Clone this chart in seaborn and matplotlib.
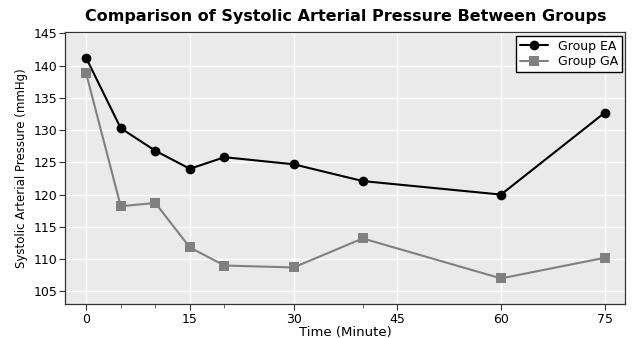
import matplotlib
matplotlib.use("Agg")
import matplotlib.pyplot as plt
import seaborn as sns
import pandas as pd
from matplotlib.ticker import FixedLocator

time_min = [0, 5, 10, 15, 20, 30, 40, 60, 75]
group_ea = [141.2, 130.3, 126.8, 124.0, 125.8, 124.7, 122.1, 120.0, 132.7]
group_ga = [138.8, 118.2, 118.7, 111.8, 109.0, 108.7, 113.2, 107.0, 110.2]
x_ticks = [0, 15, 30, 45, 60, 75]
y_ticks = [105, 110, 115, 120, 125, 130, 135, 140, 145]

sns.set_theme(style="darkgrid")
plt.rcParams['font.family'] = ['DejaVu Sans']
plt.rcParams['text.color'] = 'black'
plt.rcParams['axes.labelcolor'] = 'black'
plt.rcParams['xtick.color'] = 'black'
plt.rcParams['ytick.color'] = 'black'

df = pd.DataFrame({
    "Time": time_min * 2,
    "SAP": group_ea + group_ga,
    "Group": ["Group EA"] * len(time_min) + ["Group GA"] * len(time_min),
})

fig, ax = plt.subplots(figsize=(6.35, 3.38), dpi=100)
ax.set_facecolor("#EAEAEA")
sns.lineplot(data=df, x="Time", y="SAP", hue="Group", style="Group",
             markers={"Group EA": "o", "Group GA": "s"}, dashes=False,
             palette={"Group EA": "black", "Group GA": "gray"},
             markersize=7, linewidth=1.5, markeredgewidth=0, ax=ax)

ax.set_xticks(x_ticks)
ax.xaxis.set_minor_locator(FixedLocator([5, 10, 20, 40]))
ax.set_yticks(y_ticks)
ax.set_xlim(-3, 78)
ax.set_ylim(103, 145.2)
ax.grid(True, which="major", color="white", linewidth=1.0)
ax.grid(False, which="minor")
ax.tick_params(axis="both", which="major", labelsize=9, length=4, width=0.8,
               color="#333333", bottom=True, left=True, pad=2)
ax.tick_params(axis="x", which="minor", length=3, width=0.6, color="#555555", bottom=True)
for s in ax.spines.values():
    s.set_visible(True)
    s.set_color("#333333")
    s.set_linewidth(0.9)

ax.set_title("Comparison of Systolic Arterial Pressure Between Groups",
             fontsize=11.5, fontweight="bold", pad=8, color="black")
ax.set_xlabel("Time (Minute)", fontsize=9.5, labelpad=0)
ax.set_ylabel("Systolic Arterial Pressure (mmHg)", fontsize=8.5, labelpad=4)

leg = ax.legend(loc="upper right", fontsize=9, frameon=True, fancybox=False,
                borderpad=0.3, labelspacing=0.2, handlelength=2.2, borderaxespad=0.3)
leg.get_frame().set_edgecolor("black")
leg.get_frame().set_linewidth(1.0)
leg.get_frame().set_facecolor("white")
leg.get_frame().set_alpha(1.0)

fig.subplots_adjust(left=0.103, right=0.985, top=0.905, bottom=0.1)
fig.savefig("out.png", dpi=100)
